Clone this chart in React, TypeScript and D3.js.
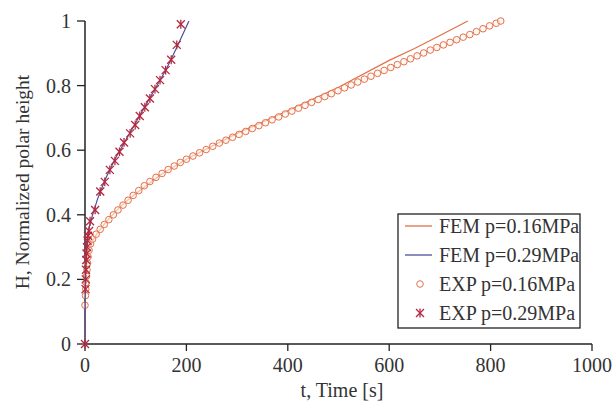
import React from "react";
import * as d3 from "d3";

const xTicks = [0, 200, 400, 600, 800, 1000];
const yTicks = [0, 0.2, 0.4, 0.6, 0.8, 1];
const yTickLabels = ["0", "0.2", "0.4", "0.6", "0.8", "1"];

const seriesNames = ["FEM p=0.16MPa", "FEM p=0.29MPa", "EXP p=0.16MPa", "EXP p=0.29MPa"];

// FEM p=0.16MPa
const fem16T = [0, 0.5, 1, 2, 4, 8, 15, 25, 40, 60, 80, 100, 150, 200, 300, 400, 500, 600, 650, 700, 755];
const fem16H = [0, 0.1, 0.16, 0.21, 0.25, 0.29, 0.32, 0.345, 0.375, 0.41, 0.44, 0.465, 0.525, 0.572, 0.652, 0.722, 0.795, 0.878, 0.915, 0.955, 1.0];

// FEM p=0.29MPa
const fem29T = [0, 0.5, 1, 2, 4, 8, 15, 25, 40, 60, 80, 100, 120, 140, 160, 180, 205];
const fem29H = [0, 0.15, 0.22, 0.28, 0.32, 0.36, 0.4, 0.45, 0.51, 0.575, 0.63, 0.685, 0.74, 0.795, 0.85, 0.915, 1.0];

// EXP p=0.16MPa
const exp16T = [0, 1, 1.5, 2, 3, 4, 5, 6, 8, 11, 15, 22, 30, 38, 47, 56, 65, 75, 85, 95, 106, 117, 128, 140, 152, 164, 176, 188, 200, 213, 226, 239, 252, 265, 278, 291, 304, 317, 330, 343, 356, 369, 382, 395, 408, 421, 434, 447, 460, 473, 486, 499, 512, 525, 538, 551, 564, 577, 590, 603, 616, 629, 642, 655, 668, 681, 694, 707, 720, 733, 746, 759, 772, 785, 798, 811, 820];
const exp16H = [0.12, 0.15, 0.17, 0.19, 0.21, 0.23, 0.25, 0.27, 0.29, 0.31, 0.325, 0.34, 0.355, 0.37, 0.385, 0.4, 0.415, 0.43, 0.445, 0.46, 0.475, 0.49, 0.503, 0.516, 0.528, 0.54, 0.551, 0.562, 0.572, 0.582, 0.592, 0.602, 0.612, 0.622, 0.631, 0.64, 0.649, 0.658, 0.667, 0.676, 0.685, 0.694, 0.703, 0.712, 0.721, 0.73, 0.739, 0.748, 0.757, 0.766, 0.775, 0.784, 0.793, 0.802, 0.811, 0.82, 0.829, 0.838, 0.847, 0.856, 0.865, 0.874, 0.883, 0.892, 0.901, 0.91, 0.918, 0.926, 0.934, 0.942, 0.95, 0.958, 0.967, 0.976, 0.985, 0.993, 1.0];

// EXP p=0.29MPa
const exp29T = [0, 1, 1.5, 2, 2.5, 3, 4, 5, 6, 8, 10, 20, 30, 39, 49, 59, 68, 77, 89, 99, 108, 118, 128, 138, 148, 159, 170, 181, 189];
const exp29H = [0, 0.17, 0.2, 0.23, 0.26, 0.28, 0.3, 0.32, 0.335, 0.35, 0.38, 0.415, 0.472, 0.502, 0.539, 0.567, 0.595, 0.624, 0.652, 0.678, 0.706, 0.733, 0.76, 0.789, 0.817, 0.848, 0.88, 0.926, 0.99];

const W = 614;
const H = 403;
const FONT = "Liberation Serif, Times New Roman, serif";
const C_FEM16 = "#e2704a";
const C_FEM29 = "#4c4f9e";
const C_EXP16 = "#e2724c";
const C_EXP29 = "#b3283e";

function Star({ x, y, s = 4 }: { x: number; y: number; s?: number }) {
  return (
    <g stroke={C_EXP29} strokeWidth={1.3}>
      <line x1={x - s} y1={y - s} x2={x + s} y2={y + s} />
      <line x1={x - s} y1={y + s} x2={x + s} y2={y - s} />
      <line x1={x} y1={y - s * 1.1} x2={x} y2={y + s * 1.1} />
    </g>
  );
}

const textStyle = { fontFamily: FONT };

export default function App() {
  const x = d3.scaleLinear().domain([0, 1000]).range([85, 592]);
  const y = d3.scaleLinear().domain([0, 1]).range([344, 21]);
  const line = d3
    .line<[number, number]>()
    .x((d) => x(d[0]))
    .y((d) => y(d[1]));

  const fem16 = fem16T.map((t, i) => [t, fem16H[i]] as [number, number]);
  const fem29 = fem29T.map((t, i) => [t, fem29H[i]] as [number, number]);
  const exp16 = exp16T.map((t, i) => [t, exp16H[i]] as [number, number]);
  const exp29 = exp29T.map((t, i) => [t, exp29H[i]] as [number, number]);

  const legX = 398;
  const legY = 214;
  const legW = 182;
  const legH = 114;
  const rowH = 29;

  return (
    <svg
      width={W}
      height={H}
      style={{ position: "absolute", left: 0, top: 0, background: "#fff" }}
    >
      <rect x={0} y={0} width={W} height={H} fill="#fff" />
      {/* axes */}
      <line x1={x(0)} y1={y(0)} x2={x(1000)} y2={y(0)} stroke="#222" strokeWidth={1.5} />
      <line x1={x(0)} y1={y(0)} x2={x(0)} y2={y(1)} stroke="#222" strokeWidth={1.5} />
      {xTicks.map((t) => (
        <g key={"xt" + t}>
          <line x1={x(t)} x2={x(t)} y1={y(0)} y2={y(0) + 7} stroke="#222" strokeWidth={1.3} />
          <text x={x(t)} y={372} textAnchor="middle" fontSize={20} fill="#333" style={textStyle}>
            {t}
          </text>
        </g>
      ))}
      {yTicks.map((v, i) => (
        <g key={"yt" + v}>
          <line x1={x(0) - 8} x2={x(0)} y1={y(v)} y2={y(v)} stroke="#222" strokeWidth={1.3} />
          <text x={71} y={y(v) + 7} textAnchor="end" fontSize={20} fill="#333" style={textStyle}>
            {yTickLabels[i]}
          </text>
        </g>
      ))}
      <text x={342} y={397} textAnchor="middle" fontSize={20} fill="#333" style={textStyle}>
        t, Time [s]
      </text>
      <text
        transform={`translate(29, 182) rotate(-90)`}
        textAnchor="middle"
        fontSize={19.5}
        fill="#333"
        style={textStyle}
      >
        H, Normalized polar height
      </text>

      {/* FEM lines */}
      <path d={line(fem16) || ""} fill="none" stroke={C_FEM16} strokeWidth={1.2} />
      {/* EXP 0.16 circles */}
      {exp16.map((d, i) => (
        <circle key={"c" + i} cx={x(d[0])} cy={y(d[1])} r={3.3} fill="#fff4ec" fillOpacity={0.6} stroke={C_EXP16} strokeWidth={1} />
      ))}
      <path d={line(fem29) || ""} fill="none" stroke={C_FEM29} strokeWidth={1.2} />
      {exp29.map((d, i) => (
        <Star key={"s" + i} x={x(d[0])} y={y(d[1])} />
      ))}

      {/* legend */}
      <rect x={legX} y={legY} width={legW} height={legH} fill="#fff" stroke="#222" strokeWidth={1.3} />
      {seriesNames.map((name, i) => {
        const cy = legY + 12 + i * rowH;
        return (
          <g key={name}>
            {i === 0 && <line x1={405} x2={432} y1={cy} y2={cy} stroke={C_FEM16} strokeWidth={1.3} />}
            {i === 1 && <line x1={405} x2={432} y1={cy} y2={cy} stroke={C_FEM29} strokeWidth={1.3} />}
            {i === 2 && <circle cx={420} cy={cy} r={3.3} fill="none" stroke={C_EXP16} strokeWidth={1} />}
            {i === 3 && <Star x={420} y={cy} />}
            <text x={439} y={cy + 7} fontSize={20} fill="#333" style={textStyle}>
              {name}
            </text>
          </g>
        );
      })}
    </svg>
  );
}
